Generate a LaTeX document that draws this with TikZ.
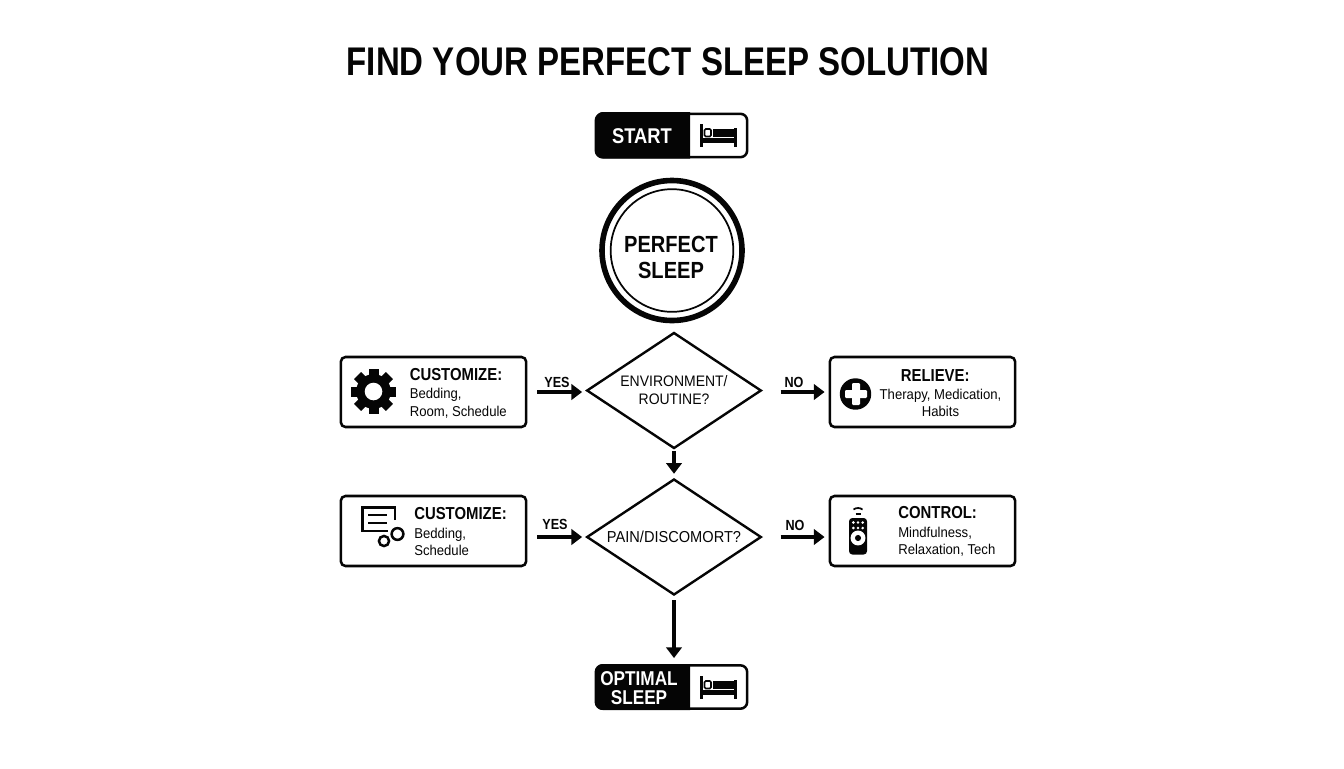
\documentclass[tikz,border=0pt]{standalone}
\usepackage{fontspec}
\usepackage{tikz}
\usetikzlibrary{arrows.meta,shapes.geometric}
\setmainfont{Liberation Sans}
\newfontfamily\headfont[FakeStretch=0.86]{Liberation Sans}
\newfontfamily\titlefont[FakeStretch=0.826]{Liberation Sans}
\newfontfamily\bodyfont[FakeStretch=0.92]{Liberation Sans}
\definecolor{inkblack}{HTML}{050505}
\tikzset{
  infobox/.style={draw=inkblack,line width=1.9pt,rounded corners=3.5pt,minimum width=139pt,minimum height=52.5pt,inner sep=0pt},
  pillbox/.style={draw=inkblack,line width=1.9pt,rounded corners=5pt,minimum width=113.5pt,minimum height=32.5pt,inner sep=0pt},
  choice/.style={diamond,draw=inkblack,line width=1.8pt,aspect=1.5,minimum width=131pt,minimum height=87pt,inner sep=0pt,
    align=center,text=inkblack,font=\bodyfont\fontsize{11.4}{13.5}\selectfont},
  infotext/.style={inner sep=0pt,text=inkblack,font=\bodyfont\fontsize{10.7}{12.8}\selectfont},
  pilltext/.style={inner sep=0pt,text=white,align=center,font=\headfont\bfseries\fontsize{15}{14.5}\selectfont},
  flowlabel/.style={inner sep=0pt,text=inkblack,font=\headfont\bfseries\fontsize{11}{12}\selectfont},
  flowarrow/.style={draw=inkblack,line width=2.9pt,-{Triangle[length=8pt,width=11.5pt]}},
  bed/.pic={
    \fill[inkblack] (-19,-12) rectangle (-15.7,11);
    \fill[inkblack] (15,-8) rectangle (18,11);
    \fill[inkblack] (-19,2) rectangle (18,6.5);
    \draw[inkblack,line width=1.2pt,rounded corners=1pt] (-14.5,-7) rectangle (-8,0.5);
    \fill[inkblack] (-6,-7) rectangle (15,0.5);
  }
}
\newcommand{\bigtitle}{\titlefont\bfseries\fontsize{30}{34}\selectfont}
\newcommand{\boxtitle}[1]{{\headfont\bfseries\fontsize{13}{14}\selectfont #1}}

\begin{document}
\begin{tikzpicture}[x=0.75pt,y=-0.75pt]
   \useasboundingbox (0,0) rectangle (1344,768);
   \node[inner sep=0pt,text=inkblack,font=\bigtitle] (title) at (668,62) {FIND YOUR PERFECT SLEEP SOLUTION};

   % start
   \node[pillbox] (startbox) at (671.5,135.5) {};
   \fill[inkblack] (690,112) -- (690,158.5) [rounded corners=5pt] -- (596,158.5) -- (596,112) [sharp corners] -- cycle;
   \node[pilltext,font=\headfont\bfseries\fontsize{16}{16}\selectfont] (starttext) at (642,136) {START};
   \pic at (719,136) {bed};

   % circle
   \node[circle,draw=inkblack,line width=4.2pt,minimum size=105pt,inner sep=0pt] (outerring) at (672,250.5) {};
   \node[circle,draw=inkblack,line width=1.3pt,minimum size=92pt,inner sep=0pt] (innerring) at (672,250.5) {};
   \node[inner sep=0pt,align=center,text=inkblack,
     font=\headfont\bfseries\fontsize{17.5}{19.5}\selectfont] (perfect) at (671,257.5) {PERFECT\\SLEEP};

   % decisions
   \node[choice] (envchoice) at (674,390.5) {ENVIRONMENT/\\ROUTINE?};
   \node[choice,font=\bodyfont\fontsize{11.9}{14}\selectfont] (painchoice) at (674,537) {PAIN/DISCOMORT?};

   % left boxes
   \node[infobox] (bedroom) at (433.5,392) {};
   \node[infobox] (bedsched) at (433.5,531) {};
   \node[infotext,anchor=west,align=left] (bedroomtext) at (409.5,393) {\boxtitle{CUSTOMIZE:}\\[1.2pt]Bedding,\\Room, Schedule};
   \node[infotext,anchor=west,align=left] (bedschedtext) at (414,531.5) {\boxtitle{CUSTOMIZE:}\\[1.2pt]Bedding,\\Schedule};

   % right boxes
   \node[infobox] (relieve) at (922.5,392) {};
   \node[infobox] (control) at (922.5,531) {};
   \node[infotext,align=center] (relievetext) at (940.5,393) {\boxtitle{RELIEVE:}\hspace*{8pt}\\[1.2pt]Therapy, Medication,\\Habits};
   \node[infotext,anchor=west,align=left] (controltext) at (898,531.5) {\boxtitle{CONTROL:}\\[1.2pt]Mindfulness,\\Relaxation, Tech};

   % gear
   \foreach \a in {0,45,...,315}
     \fill[inkblack,rotate around={\a:(373.5,391.5)}] (368.5,369) rectangle (378.5,382);
   \fill[inkblack] (373.5,391.5) circle (13pt);
   \fill[white] (373.5,391.5) circle (6.6pt);

   % note with two rings
   \draw[inkblack,line width=2pt] (395,520) -- (395,507.5) -- (362.5,507.5) -- (362.5,531) -- (388,531);
   \draw[inkblack,line width=1.9pt] (368,515) -- (387,515);
   \draw[inkblack,line width=1.9pt] (368,523) -- (387,523);
   \draw[inkblack,line width=1.9pt] (384,541) circle (3.8pt);
   \draw[inkblack,line width=1.9pt] (397.5,534) circle (4.4pt);

   % plus
   \fill[inkblack] (855.5,394) circle (11.8pt);
   \fill[white,rounded corners=0.8pt] (852,383) rectangle (860,405);
   \fill[white,rounded corners=0.8pt] (845,390) rectangle (867,398);

   % remote
   \fill[inkblack,rounded corners=2.5pt] (849,518) rectangle (867,554.5);
   \draw[inkblack,line width=1.3pt] (853.5,509.5) .. controls (856,507.5) and (860,507.5) .. (862.5,509.5);
   \draw[inkblack,line width=1.3pt] (855.5,514) -- (860.5,514);
   \foreach \x in {853.3,858,862.7}
     \foreach \y in {522.5,528}
       \fill[white] (\x,\y) circle (1.1pt);
   \fill[white] (858,538) circle (5.6pt);
   \fill[inkblack] (858,538) circle (2.3pt);

   % optimal
   \node[pillbox] (optimal) at (671.5,687) {};
   \fill[inkblack] (690,664) -- (690,710) [rounded corners=5pt] -- (596,710) -- (596,664) [sharp corners] -- cycle;
   \node[pilltext] (optimaltext) at (639,688) {OPTIMAL\\SLEEP};
   \pic at (719,688) {bed};

   % arrows
   \draw[flowarrow,yshift=0.75pt,shorten <=7.5pt,shorten >=2.5pt] (bedroom.east) -- (bedroom.east -| envchoice.west);
   \draw[flowarrow,yshift=-0.75pt,shorten <=7.5pt,shorten >=2.5pt] (bedsched.east |- painchoice.west) -- (painchoice.west);
   \draw[flowarrow,yshift=0.75pt,shorten <=13.5pt,shorten >=3pt] (bedroom.east -| envchoice.east) -- (relieve.west);
   \draw[flowarrow,yshift=-0.75pt,shorten <=13.5pt,shorten >=3pt] (painchoice.east) -- (control.west |- painchoice.east);
   \draw[flowarrow,shorten <=1.2pt,shorten >=3pt] (envchoice.south) -- (painchoice.north);
   \draw[flowarrow,shorten <=3pt,shorten >=4.5pt] (painchoice.south) -- (painchoice.south |- optimal.north);

   \node[flowlabel] (yesa) at (557,382) {YES};
   \node[flowlabel] (yesb) at (555,524) {YES};
   \node[flowlabel] (noa) at (794,382) {NO};
   \node[flowlabel] (nob) at (795,525) {NO};
  \end{tikzpicture}
\end{document}
